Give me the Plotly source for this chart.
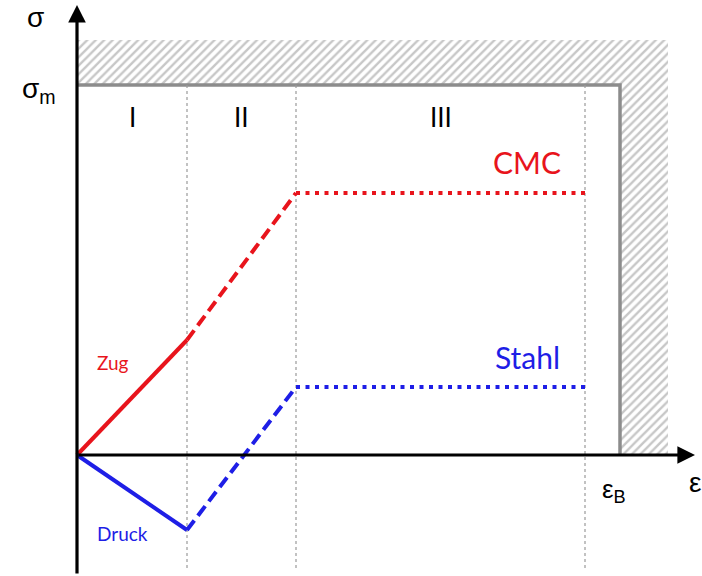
import plotly.graph_objects as go

# Strain boundaries of the three regimes (arbitrary units)
eps_regimes = [0.0, 11.0, 21.9, 50.8]
eps_B = 54.3
# Stress curves at the regime boundaries
stress_cmc = [0.0, 11.5, 26.2, 26.2]
stress_stahl = [0.0, -7.5, 6.8, 6.8]
sigma_m = 37.0
# Extent of the hatched limit region
hatch_top = 41.5
hatch_right = 59.1
# Axis extents
x_axis_end = 61.8
y_axis_top = 45.0
y_axis_bottom = -12.0
region_labels = ["I", "II", "III"]

RED = "#e8141c"
BLUE = "#1e1ee6"
GRAY = "#8c8c8c"

fig = go.Figure()

# Hatched L-shaped region beyond the strength limit
fig.add_trace(go.Scatter(
    x=[0, hatch_right, hatch_right, eps_B, eps_B, 0, 0],
    y=[hatch_top, hatch_top, 0, 0, sigma_m, sigma_m, hatch_top],
    mode="lines", fill="toself", line=dict(width=0),
    fillcolor="white",
    fillpattern=dict(shape="/", fgcolor="#8f8f8f", bgcolor="white",
                     size=6, solidity=0.4),
    hoverinfo="skip", showlegend=False,
))

# Limit border (sigma_m and eps_B)
fig.add_trace(go.Scatter(
    x=[0, eps_B, eps_B], y=[sigma_m, sigma_m, 0],
    mode="lines", line=dict(color=GRAY, width=3.5),
    hoverinfo="skip", showlegend=False,
))

# Regime separators
for xv in eps_regimes[1:]:
    fig.add_trace(go.Scatter(
        x=[xv, xv], y=[sigma_m, -11.3], mode="lines",
        line=dict(color="#9a9a9a", width=1.2, dash="3px,3px"),
        hoverinfo="skip", showlegend=False,
    ))

# Curves: solid, dashed, dotted per regime
styles = ["solid", "12px,6px", "4px,5.5px"]
for ys, col in [(stress_cmc, RED), (stress_stahl, BLUE)]:
    for i in range(3):
        fig.add_trace(go.Scatter(
            x=eps_regimes[i:i + 2], y=ys[i:i + 2], mode="lines",
            line=dict(color=col, width=4, dash=styles[i]),
            hoverinfo="skip", showlegend=False,
        ))

# Axes with arrows
fig.add_annotation(x=x_axis_end, y=0, ax=0, ay=0, xref="x", yref="y",
                   axref="x", ayref="y", showarrow=True, arrowhead=2,
                   arrowsize=1.1, arrowwidth=3.2, arrowcolor="black", text="")
fig.add_annotation(x=0, y=y_axis_top, ax=0, ay=y_axis_bottom, xref="x", yref="y",
                   axref="x", ayref="y", showarrow=True, arrowhead=2,
                   arrowsize=1.1, arrowwidth=3.2, arrowcolor="black", text="")

greek = "Liberation Sans, Arial, sans-serif"
text_font = "Lato, Open Sans, sans-serif"

def label(x, y, text, size, color="black", family=text_font, xanchor="center"):
    fig.add_annotation(x=x, y=y, text=text, showarrow=False, xref="x", yref="y",
                       xanchor=xanchor, yanchor="middle", borderpad=0,
                       font=dict(size=size, color=color, family=family))

label(-4.2, 43.8, "σ", 28, family=greek)
label(-3.8, 36.5, "σ<sub>m</sub>", 28, family=greek)
label(eps_B - 0.6, -3.5, "ε<sub>B</sub>", 26, family=greek)
label(62.45, -2.7, "ε", 28, family=greek, xanchor="right")

mids = [(eps_regimes[i] + eps_regimes[i + 1]) / 2 for i in range(3)]
for m, t in zip(mids, region_labels):
    label(m, 33.8, t, 26)

label(45.0, 29.3, "CMC", 30, RED)
label(45.0, 9.8, "Stahl", 30, BLUE)
label(3.6, 9.3, "Zug", 19, RED)
label(4.5, -7.8, "Druck", 19, BLUE)

fig.update_layout(
    width=702, height=576,
    margin=dict(l=0, r=0, t=0, b=0),
    paper_bgcolor="white", plot_bgcolor="white",
    xaxis=dict(range=[-7.7, 62.5], visible=False, fixedrange=True),
    yaxis=dict(range=[-12.1, 45.5], visible=False, fixedrange=True),
    showlegend=False,
)

fig.write_html("out.html")
